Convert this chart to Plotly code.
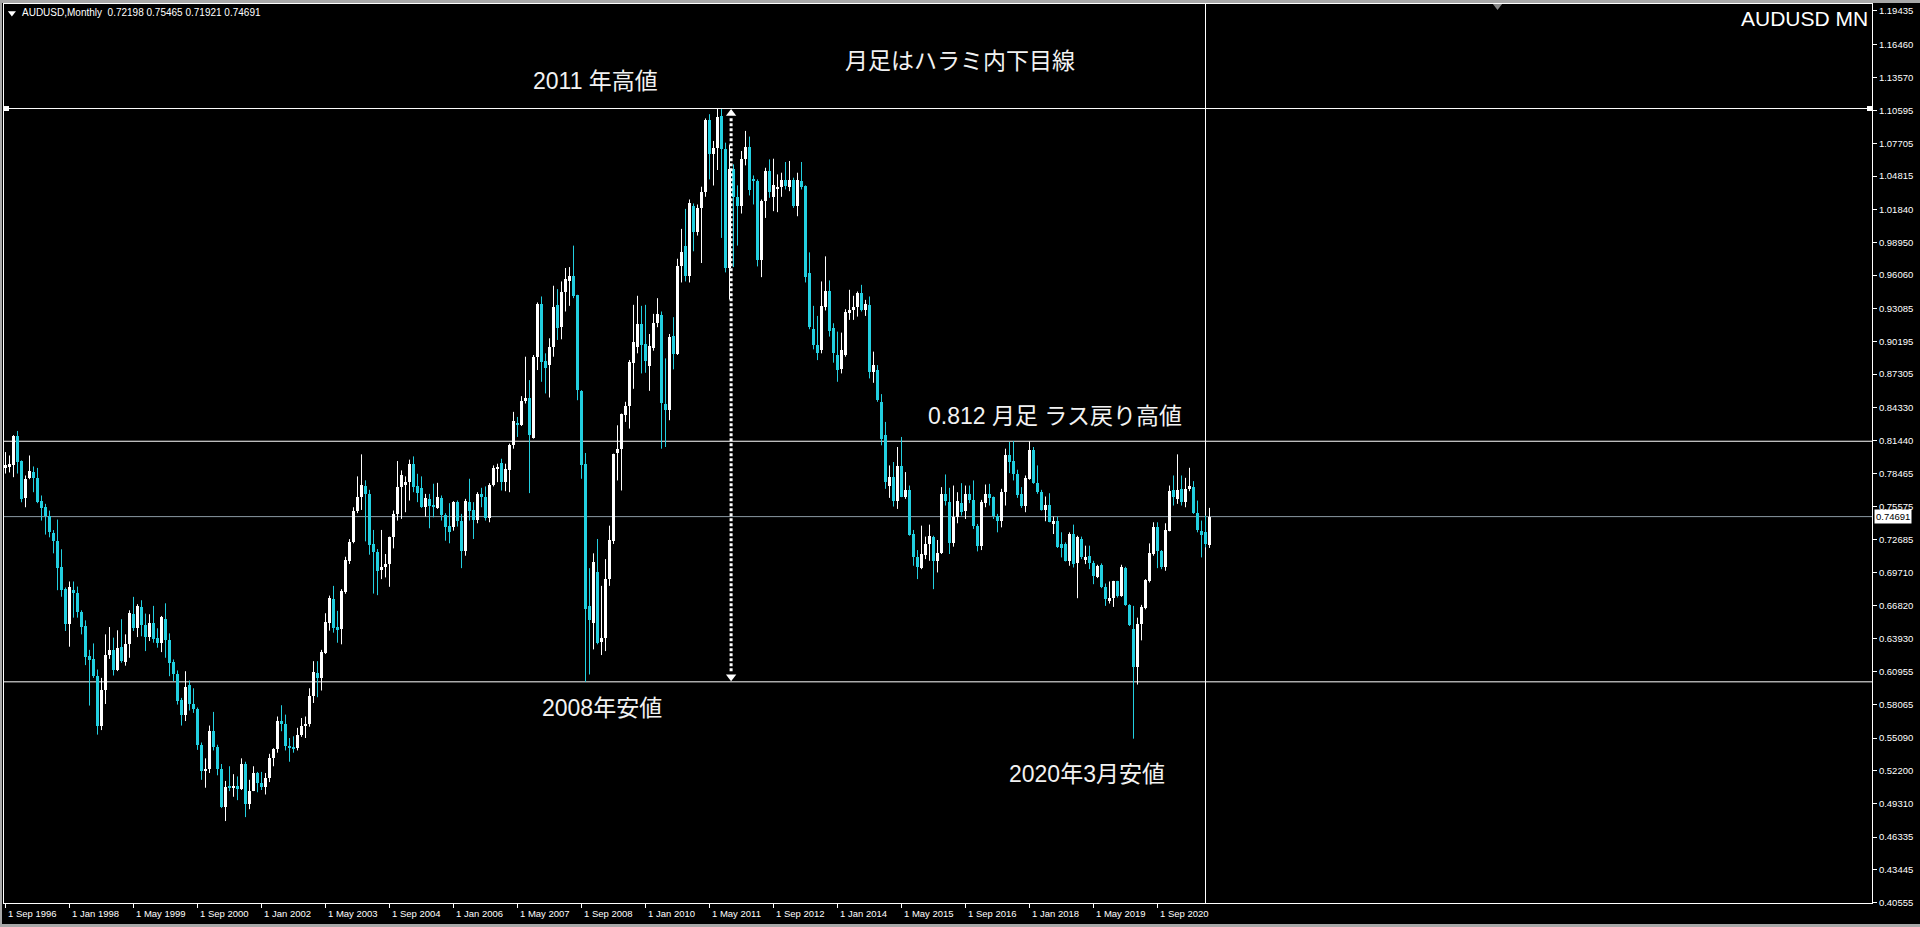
import plotly.graph_objects as go
import pandas as pd

# ---------------- data (AUDUSD monthly, Sep 1996 - Oct 2021) ----------------
start_month = "1996-09"

opens = [
    .7905, .7916, .7922, .8180,
    .7958, .7632, .7810, .7860, .7815, .7611, .7552, .7478, .7320, .7256, .7020, .6827,
    .6516, .6818, .6791, .6628, .6501, .6235, .6205, .6057, .5620, .5933, .6244, .6285,
    .6110, .6315, .6185, .6344, .6605, .6486, .6670, .6510, .6403, .6531, .6392, .6353,
    .6566, .6374, .6182, .6072, .5850, .5717, .5977, .5812, .5767, .5445, .5215, .5240,
    .5570, .5430, .5240, .4900, .5080, .5070, .5085, .5060, .5280, .4930, .5045, .5200,
    .5110, .5080, .5160, .5330, .5410, .5660, .5630, .5440, .5430, .5420, .5540, .5620,
    .5630, .5880, .6087, .6042, .6265, .6530, .6738, .6493, .6472, .6806, .7073, .7241,
    .7523, .7647, .7736, .7670, .7226, .7153, .6996, .7025, .7049, .7286, .7493, .7730,
    .7753, .7774, .7931, .7740, .7724, .7558, .7626, .7576, .7546, .7632, .7487, .7390,
    .7375, .7597, .7434, .7161, .7597, .7528, .7440, .7671, .7641, .7458, .7745, .7893,
    .7946, .7774, .7884, .8100, .8301, .8277, .8493, .8523, .8168, .8884, .9352, .8846,
    .8810, .8973, .9343, .9145, .9461, .9550, .9600, .9432, .8579, .7931, .6679, .6531,
    .6975, .6362, .6392, .6916, .7256, .8032, .8070, .8366, .8446, .8831, .8973, .9174,
    .8994, .8801, .8958, .9180, .9254, .8464, .8411, .9068, .8908, .9683, .9867, .9594,
    1.0222, .9985, 1.0201, 1.0340, 1.0980, 1.0675, 1.0734, 1.1015, 1.0719, .9668, 1.0548, 1.0299,
    1.0222, 1.0636, 1.0743, 1.0459, 1.0438, .9742, 1.0266, 1.0527, 1.0299, 1.0375, 1.0388, 1.0447,
    1.0388, 1.0447, 1.0222, 1.0435, 1.0394, .9624, .9127, .8988, .8943, .9320, .9467, .9136,
    .8899, .8772, .8899, .9275, .9293, .9322, .9452, .9298, .9343, .8751, .8766, .8485,
    .8189, .7744, .7818, .7605, .7913, .7641, .7706, .7315, .7114, .7010, .7132, .7227,
    .7292, .7078, .7144, .7665, .7602, .7232, .7469, .7591, .7517, .7665, .7617, .7389,
    .7212, .7591, .7665, .7641, .7478, .7428, .7685, .8011, .7961, .7842, .7665, .7567,
    .7804, .8061, .7765, .7685, .7528, .7576, .7404, .7428, .7227, .7227, .7072, .7315,
    .7055, .7271, .7093, .7123, .7055, .6931, .7043, .6848, .6723, .6753, .6901, .6768,
    .7013, .6688, .6472, .6137, .6516, .6658, .6901, .7138, .7374, .7167, .7025, .7345,
    .7706, .7626, .7715, .7597, .7715, .7730, .7499, .7345, .7330, .72198,
]

highs = [
    .8040, .8010, .8190, .8227,
    .7966, .7833, .8010, .7913, .7900, .7656, .7582, .7522, .7350, .7443, .7180, .6842,
    .6895, .6895, .6850, .6640, .6551, .6290, .6347, .6116, .6042, .6427, .6492, .6398,
    .6463, .6561, .6427, .6640, .6759, .6694, .6729, .6611, .6605, .6679, .6481, .6590,
    .6702, .6436, .6205, .6108, .5865, .6101, .6019, .5950, .5780, .5470, .5330, .5620,
    .5741, .5450, .5280, .5130, .5260, .5190, .5170, .5330, .5300, .5140, .5260, .5210,
    .5210, .5200, .5370, .5420, .5700, .5800, .5717, .5510, .5525, .5600, .5687, .5700,
    .5950, .6190, .6190, .6290, .6614, .6770, .6856, .6635, .6827, .7114, .7270, .7552,
    .7825, .8020, .7790, .7706, .7351, .7182, .7351, .7138, .7292, .7523, .7961, .7878,
    .7825, .7973, .8002, .7848, .7825, .7670, .7670, .7760, .7768, .7656, .7499, .7588,
    .7606, .7612, .7493, .7626, .7804, .7597, .7685, .7724, .7736, .7765, .7922, .7937,
    .7981, .7937, .8115, .8396, .8351, .8535, .8884, .8677, .8899, .9364, .9417, .8914,
    .9047, .9512, .9482, .9550, .9669, .9677, .9867, .9432, .8588, .8032, .7013, .7144,
    .7271, .6856, .7093, .7389, .8026, .8277, .8381, .8485, .8855, .9343, .9423, .9334,
    .9343, .9085, .9263, .9402, .9284, .8869, .9085, .9234, .9751, 1.0015, 1.0192, 1.0275,
    1.0240, 1.0231, 1.0388, 1.0992, 1.1030, 1.0793, 1.1080, 1.1075, 1.0778, 1.0760, 1.0586, 1.0400,
    1.0704, 1.0882, 1.0832, 1.0488, 1.0453, 1.0275, 1.0556, 1.0630, 1.0636, 1.0497, 1.0512, 1.0607,
    1.0616, 1.0468, 1.0512, 1.0607, 1.0400, .9807, .9334, .9245, .9550, .9772, .9559, .9180,
    .9106, .9097, .9304, .9476, .9423, .9461, .9520, .9387, .9417, .8929, .8810, .8553,
    .8307, .7922, .7952, .8085, .8174, .7863, .7744, .7351, .7173, .7389, .7292, .7398,
    .7300, .7262, .7730, .7842, .7724, .7744, .7685, .7765, .7744, .7744, .7789, .7404,
    .7617, .7753, .7759, .7647, .7493, .7715, .8070, .8129, .8138, .7884, .7730, .7833,
    .8136, .8085, .7922, .7706, .7647, .7676, .7469, .7469, .7330, .7241, .7330, .7398,
    .7300, .7292, .7212, .7212, .7078, .7043, .7055, .6877, .6895, .6901, .6901, .7043,
    .7025, .6694, .6679, .6575, .6688, .6916, .7232, .7419, .7419, .7173, .7410, .7744,
    .7833, .8020, .7833, .7812, .7901, .7783, .7611, .7434, .7478, .75465,
]

lows = [
    .7850, .7860, .7818, .7850,
    .7596, .7552, .7800, .7685, .7588, .7434, .7310, .7286, .7144, .6818, .6760, .6457,
    .6318, .6575, .6575, .6427, .6155, .5797, .6042, .5540, .5580, .5811, .6210, .6063,
    .6102, .6176, .6150, .6220, .6457, .6403, .6410, .6279, .6368, .6353, .6309, .6270,
    .6220, .6057, .6013, .5806, .5620, .5660, .5753, .5732, .5405, .5140, .5070, .5200,
    .5400, .5180, .4890, .4775, .5040, .4990, .4960, .5050, .4810, .4880, .5040, .5030,
    .5050, .5010, .5120, .5260, .5380, .5570, .5400, .5300, .5380, .5400, .5520, .5510,
    .5610, .5820, .5871, .5930, .6253, .6460, .6442, .6353, .6339, .6786, .7050, .7233,
    .7500, .7528, .7250, .7132, .6788, .6774, .6916, .6931, .6848, .7188, .7434, .7449,
    .7508, .7611, .7685, .7597, .7546, .7470, .7366, .7463, .7537, .7434, .7256, .7233,
    .7345, .7381, .7013, .7123, .7434, .7271, .7410, .7552, .7434, .7419, .7736, .7774,
    .7700, .7694, .7685, .8070, .8174, .8271, .8470, .7677, .8159, .8766, .8662, .8559,
    .8523, .8884, .9032, .9038, .9284, .9334, .9402, .8499, .7804, .6007, .6072, .6294,
    .6339, .6244, .6279, .6856, .7227, .7789, .7700, .8307, .8248, .8600, .8914, .8736,
    .8742, .8582, .8937, .9145, .8070, .8085, .8322, .8772, .8899, .9541, .9550, .9541,
    .9817, .9956, .9713, 1.0299, 1.0453, 1.0399, 1.0536, .9935, .9630, .9390, .9677, .9867,
    1.0151, 1.0577, 1.0311, 1.0231, .9683, .9588, 1.0112, 1.0290, 1.0172, 1.0163, 1.0299, 1.0364,
    1.0349, 1.0201, 1.0127, 1.0364, .9541, .9127, .8949, .8854, .8914, .9293, .9062, .8831,
    .8662, .8736, .8884, .9210, .9210, .9239, .9284, .9245, .8692, .8653, .8485, .8100,
    .7715, .7635, .7558, .7537, .7641, .7626, .7300, .7034, .6916, .7004, .7093, .7078,
    .6827, .6975, .7138, .7567, .7138, .7203, .7410, .7478, .7448, .7588, .7360, .7161,
    .7173, .7552, .7567, .7448, .7330, .7374, .7567, .7854, .7789, .7635, .7546, .7508,
    .7795, .7759, .7671, .7522, .7428, .7419, .7315, .7191, .7108, .7072, .7034, .7019,
    .6747, .7093, .7049, .7004, .6871, .6925, .6836, .6679, .6700, .6670, .6753, .6759,
    .6679, .6501, .5504, .5983, .6374, .6649, .6886, .7123, .7013, .7004, .6990, .7339,
    .7567, .7582, .7567, .7552, .7694, .7493, .7330, .7108, .7197, .71921,
]

closes = [
    .7922, .7931, .8180, .7952,
    .7623, .7798, .7869, .7810, .7602, .7543, .7478, .7330, .7256, .7010, .6820, .6516,
    .6842, .6797, .6628, .6495, .6229, .6200, .6057, .5620, .5939, .6244, .6285, .6110,
    .6309, .6190, .6338, .6620, .6486, .6679, .6510, .6403, .6531, .6389, .6353, .6584,
    .6374, .6176, .6078, .5835, .5717, .5962, .5812, .5767, .5445, .5215, .5240, .5570,
    .5430, .5240, .4900, .5080, .5070, .5085, .5060, .5280, .4930, .5045, .5200, .5110,
    .5080, .5160, .5330, .5410, .5660, .5630, .5440, .5430, .5420, .5540, .5620, .5630,
    .5880, .6093, .6042, .6273, .6537, .6747, .6487, .6470, .6812, .7087, .7247, .7523,
    .7647, .7745, .7670, .7218, .7153, .6990, .7020, .7049, .7286, .7493, .7730, .7833,
    .7774, .7931, .7730, .7680, .7558, .7635, .7567, .7552, .7641, .7487, .7381, .7330,
    .7597, .7428, .7161, .7611, .7523, .7440, .7671, .7641, .7458, .7745, .7902, .7902,
    .7774, .7893, .8100, .8313, .8277, .8493, .8523, .8195, .8884, .9352, .8840, .8780,
    .8973, .9328, .9136, .9461, .9571, .9600, .9423, .8588, .7922, .6649, .6552, .7070,
    .6353, .6398, .6916, .7262, .8020, .8070, .8375, .8446, .8840, .9011, .9174, .8988,
    .8849, .8979, .9180, .9263, .8470, .8411, .9056, .8908, .9683, .9810, .9594, 1.0246,
    .9985, 1.0201, 1.0340, 1.0980, 1.0675, 1.0734, 1.1009, 1.0719, .9668, 1.0548, 1.0299, 1.0216,
    1.0636, 1.0743, 1.0358, 1.0438, .9742, 1.0266, 1.0527, 1.0340, 1.0400, 1.0385, 1.0447, 1.0399,
    1.0447, 1.0222, 1.0447, 1.0388, .9588, .9151, .8988, .8914, .9334, .9467, .9115, .8914,
    .8766, .8943, .9284, .9298, .9322, .9452, .9298, .9352, .8751, .8810, .8505, .8159,
    .7774, .7824, .7605, .7913, .7647, .7706, .7309, .7114, .7019, .7138, .7227, .7300,
    .7078, .7146, .7665, .7611, .7232, .7469, .7611, .7508, .7665, .7617, .7389, .7212,
    .7596, .7665, .7635, .7478, .7428, .7691, .8011, .7952, .7842, .7656, .7567, .7812,
    .8061, .7765, .7685, .7528, .7576, .7419, .7428, .7197, .7191, .7078, .7315, .7049,
    .7286, .7108, .7108, .7055, .6945, .7034, .6842, .6738, .6753, .6901, .6768, .7025,
    .6688, .6510, .6137, .6516, .6670, .6907, .7144, .7380, .7161, .7025, .7351, .7700,
    .7641, .7706, .7597, .7715, .7744, .7499, .7351, .7310, .7227, .74691,
]

x_tick_labels = [
    "1 Sep 1996", "1 Jan 1998", "1 May 1999", "1 Sep 2000", "1 Jan 2002", "1 May 2003",
    "1 Sep 2004", "1 Jan 2006", "1 May 2007", "1 Sep 2008", "1 Jan 2010", "1 May 2011",
    "1 Sep 2012", "1 Jan 2014", "1 May 2015", "1 Sep 2016", "1 Jan 2018", "1 May 2019",
    "1 Sep 2020",
]

y_tick_values = [
    1.19435, 1.16460, 1.13570, 1.10595, 1.07705, 1.04815, 1.01840, 0.98950, 0.96060,
    0.93085, 0.90195, 0.87305, 0.84330, 0.81440, 0.78465, 0.75575, 0.72685, 0.69710,
    0.66820, 0.63930, 0.60955, 0.58065, 0.55090, 0.52200, 0.49310, 0.46335, 0.43445,
    0.40555,
]

# ---------------- derived ----------------
n = len(opens)
months = pd.period_range(start_month, periods=n, freq="M")
month_pos = {p: i for i, p in enumerate(months)}
x_idx = list(range(n))
tick_pos = [month_pos[pd.Period(pd.Timestamp(lbl), freq="M")] for lbl in x_tick_labels]

high_2011 = max(highs)
low_2008 = min(lows[months.get_loc(pd.Period("2008-01", "M")):months.get_loc(pd.Period("2009-12", "M"))])
last_rally_high = highs[months.get_loc(pd.Period("2018-01", "M"))]
last_price = closes[-1]

# ---------------- geometry ----------------
W, H = 1920, 927
ML, MR, MT, MB = 4, 48, 4, 24
PW, PH = W - ML - MR, H - MT - MB
X_RANGE = [-0.375, 466.625]
Y_RANGE = [0.4050, 1.2005]


def pxx(px):
    return (px - ML) / PW


def pxy(py):
    return 1 - (py - MT) / PH


BULL = "#ffffff"
BEAR = "#22cfe0"
FONT_UI = "Liberation Sans, Arial, sans-serif"
FONT_JP = "Liberation Sans, Noto Sans CJK JP, sans-serif"

bull_i = [i for i in x_idx if closes[i] >= opens[i]]
bear_i = [i for i in x_idx if closes[i] < opens[i]]


def wick_xy(idx):
    xs, ys = [], []
    for i in idx:
        xs += [i, i, None]
        ys += [lows[i], highs[i], None]
    return xs, ys


fig = go.Figure()
for idx, col in ((bull_i, BULL), (bear_i, BEAR)):
    wx, wy = wick_xy(idx)
    fig.add_trace(go.Scatter(x=wx, y=wy, mode="lines", line=dict(color=col, width=1),
                             hoverinfo="skip", showlegend=False))
    fig.add_trace(go.Bar(
        x=idx,
        y=[abs(closes[i] - opens[i]) for i in idx],
        base=[min(opens[i], closes[i]) for i in idx],
        width=0.75,
        marker=dict(color=col, line=dict(width=0)),
        hoverinfo="skip", showlegend=False,
    ))

ARROW_X = 181.4
# arrow heads of the vertical measuring line
fig.add_trace(go.Scatter(
    x=[ARROW_X, ARROW_X], y=[high_2011 - 0.0045, low_2008 + 0.0045], mode="markers",
    marker=dict(symbol=["triangle-up", "triangle-down"], size=9, color="white", line=dict(width=0)),
    hoverinfo="skip", showlegend=False, cliponaxis=False))
# selection handles of the top horizontal line
fig.add_trace(go.Scatter(
    x=[0.25, 466.0], y=[high_2011, high_2011], mode="markers",
    marker=dict(symbol="square", size=5, color="white", line=dict(width=0)),
    hoverinfo="skip", showlegend=False, cliponaxis=False))
# header triangle + chart-shift marker
fig.add_trace(go.Scatter(
    x=[1.6], y=[Y_RANGE[1] - 9 * 0.000885], mode="markers",
    marker=dict(symbol="triangle-down", size=7, color="white", line=dict(width=0)),
    hoverinfo="skip", showlegend=False, cliponaxis=False))
fig.add_trace(go.Scatter(
    x=[373], y=[Y_RANGE[1] - 2 * 0.000885], mode="markers",
    marker=dict(symbol="triangle-down", size=8, color="#8a8a8a", line=dict(width=0)),
    hoverinfo="skip", showlegend=False, cliponaxis=False))

shapes = []
for yv in (high_2011, last_rally_high, low_2008):
    shapes.append(dict(type="line", xref="paper", yref="y", x0=0, x1=1, y0=yv, y1=yv,
                       line=dict(color="white", width=1), layer="below"))
shapes.append(dict(type="line", xref="paper", yref="y", x0=0, x1=1, y0=last_price, y1=last_price,
                   line=dict(color="#8c9aa4", width=1), layer="below"))
shapes.append(dict(type="line", xref="x", yref="paper", x0=300, x1=300, y0=0, y1=1,
                   line=dict(color="white", width=1), layer="below"))
shapes.append(dict(type="line", xref="x", yref="y", x0=ARROW_X, x1=ARROW_X,
                   y0=high_2011 - 0.0085, y1=low_2008 + 0.0085,
                   line=dict(color="white", width=3, dash="3px,2px"), layer="above"))
# window chrome strips
for x0, x1, y0, y1 in ((0, 1920, 0, 3), (0, 2, 0, 927), (0, 1920, 924, 927)):
    shapes.append(dict(type="rect", xref="paper", yref="paper",
                       x0=pxx(x0), x1=pxx(x1), y0=pxy(y1), y1=pxy(y0),
                       fillcolor="#a8a8a8", line=dict(width=0), layer="above"))

annotations = []
# x axis labels (left aligned next to the tick)
for pos, lbl in zip(tick_pos, x_tick_labels):
    annotations.append(dict(x=pos, xref="x", y=pxy(913.5), yref="paper", text=lbl,
                            showarrow=False, xanchor="left", yanchor="middle", xshift=0,
                            font=dict(family=FONT_UI, size=9.5, color="white")))
# current price box
annotations.append(dict(x=pxx(1874), xref="paper", y=last_price, yref="y",
                        text=f"{last_price:.5f}", showarrow=False, xanchor="left", yanchor="middle",
                        bgcolor="white", borderpad=1,
                        font=dict(family=FONT_UI, size=9.5, color="black")))
# header
annotations.append(dict(x=pxx(20), xref="paper", y=pxy(13), yref="paper",
                        text="AUDUSD,Monthly\u00a0\u00a0"
                             + " ".join(f"{v:.5f}" for v in (opens[-1], highs[-1], lows[-1], closes[-1])),
                        showarrow=False, xanchor="left", yanchor="middle",
                        font=dict(family=FONT_UI, size=10, color="white")))
annotations.append(dict(x=pxx(1870), xref="paper", y=pxy(19), yref="paper", text="AUDUSD MN",
                        showarrow=False, xanchor="right", yanchor="middle",
                        font=dict(family=FONT_UI, size=21, color="white")))
notes = [
    ("2011 年高値", 595, 81),
    ("月足はハラミ内下目線", 960, 61),
    ("0.812 月足 ラス戻り高値", 1055, 416),
    ("2008年安値", 602, 708),
    ("2020年3月安値", 1087, 774),
]
for txt, cx, cy in notes:
    annotations.append(dict(x=pxx(cx), xref="paper", y=pxy(cy), yref="paper", text=txt,
                            showarrow=False, xanchor="center", yanchor="middle",
                            font=dict(family=FONT_JP, size=23, color="#f2f2f2")))

fig.update_layout(
    width=W, height=H,
    margin=dict(l=ML, r=MR, t=MT, b=MB, pad=0),
    paper_bgcolor="black", plot_bgcolor="black",
    showlegend=False, barmode="overlay", bargap=0,
    shapes=shapes, annotations=annotations,
    xaxis=dict(range=X_RANGE, showgrid=False, zeroline=False, showline=True, linecolor="white",
               linewidth=1, mirror=True, ticks="outside", ticklen=4, tickcolor="white", tickwidth=1,
               tickmode="array", tickvals=tick_pos, showticklabels=False, fixedrange=True),
    yaxis=dict(range=Y_RANGE, side="right", showgrid=False, zeroline=False, showline=True,
               linecolor="white", linewidth=1, mirror=True, ticks="outside", ticklen=4,
               tickcolor="white", tickwidth=1, tickmode="array", tickvals=y_tick_values,
               ticktext=[f"{v:.5f}" for v in y_tick_values],
               tickfont=dict(family=FONT_UI, size=9.5, color="white"), fixedrange=True),
)

fig.write_html(
    "out.html", include_plotlyjs=True, config={"displayModeBar": False},
    post_script="document.body.style.margin='0';document.body.style.overflow='hidden';"
                "document.documentElement.style.background='black';",
)
